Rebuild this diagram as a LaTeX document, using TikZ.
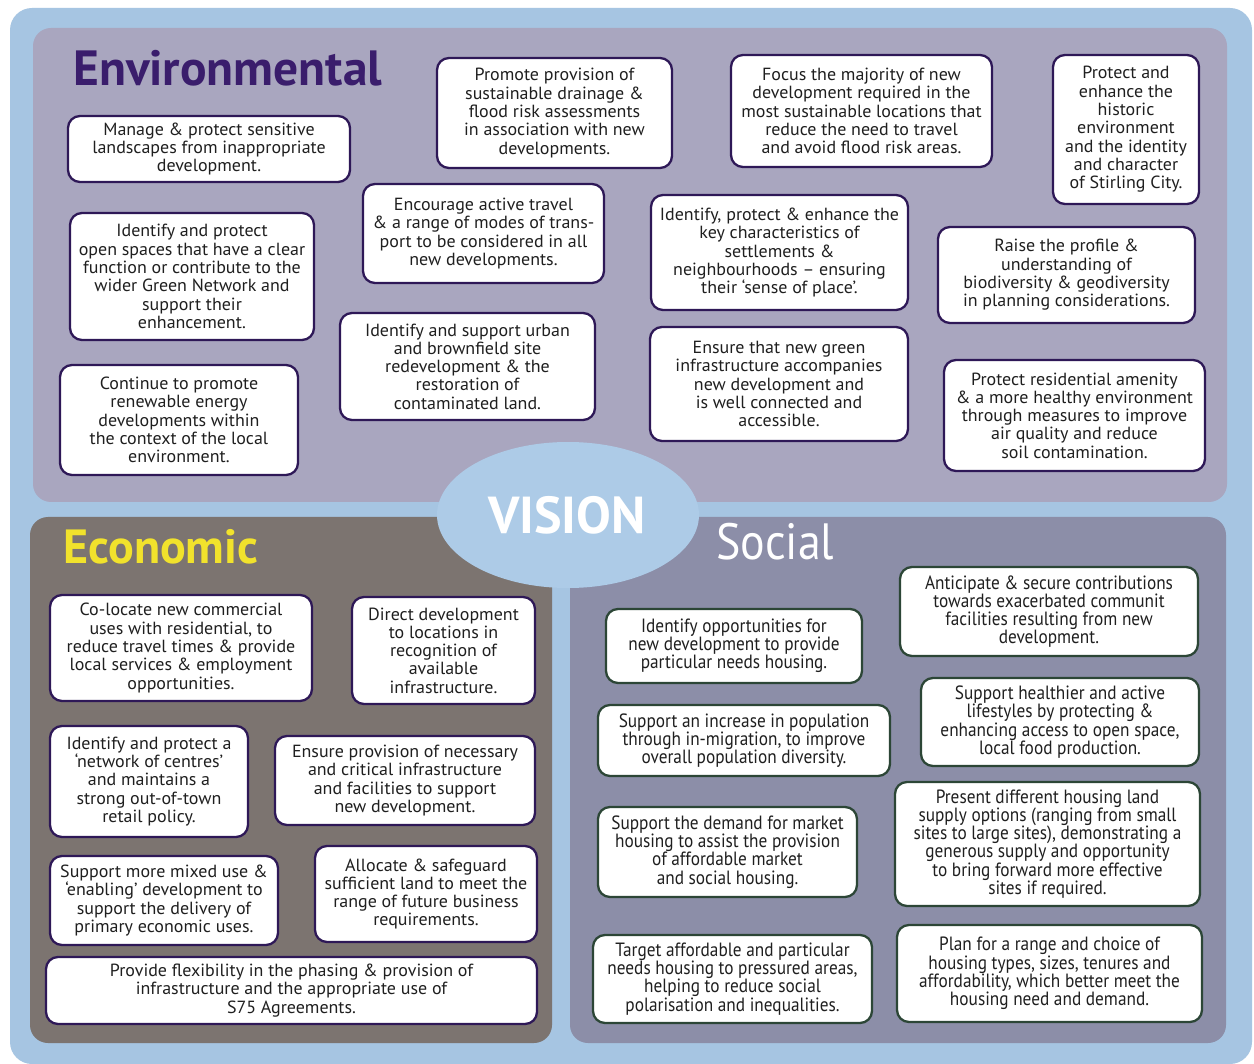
\documentclass[tikz,border=0pt]{standalone}
\usepackage{fontspec}
\setmainfont{PT Sans}
\newfontfamily\socialface[FakeStretch=0.9, Ligatures=TeX]{PT Sans}
\newfontfamily\boxface[FakeStretch=1.02, Ligatures=TeX]{PT Sans}
\usetikzlibrary{shapes.geometric}

\definecolor{skyblue}{HTML}{A6C5E2}
\definecolor{ovalblue}{HTML}{ADCBE7}
\definecolor{envpanel}{HTML}{A9A6BF}
\definecolor{ecopanel}{HTML}{7C7470}
\definecolor{socpanel}{HTML}{8C8EA8}
\definecolor{envline}{HTML}{2E1857}
\definecolor{socline}{HTML}{2C4636}
\definecolor{boxtext}{HTML}{1F1F1F}
\definecolor{envtitle}{HTML}{3A1D6C}
\definecolor{ecotitle}{HTML}{F1E22C}

\tikzset{
  ebox/.style={draw=envline, line width=2.3pt, rounded corners=12pt, fill=white,
    align=center, inner sep=1pt, text=boxtext,
    font=\boxface\fontsize{17.6}{18.3}\selectfont},
  sbox/.style={ebox, draw=socline,
    font=\socialface\fontsize{19.2}{18.2}\selectfont},
  panel/.style={rounded corners=18pt},
}

\begin{document}
\begin{tikzpicture}[x=1pt,y=-1pt]
\useasboundingbox (0,0) rectangle (1254,1064);
\fill[white] (0,0) rectangle (1254,1064);

% backdrop and the three theme panels
\fill[skyblue, rounded corners=22pt] (10,8) rectangle (1252,1064);
\fill[envpanel, panel] (33,28) rectangle (1227,502);
\fill[ecopanel, panel] (30,517) rectangle (552,1043);
\fill[socpanel, panel] (570,517) rectangle (1226,1043);
\node[ellipse, fill=ovalblue, minimum width=262pt, minimum height=146pt] (vision) at (568,515) {};
\node[text=white, font=\bfseries\fontsize{52}{52}\selectfont, anchor=base] (visiontxt) at (567,533) {VISION};

% titles
\node[text=envtitle, font=\bfseries\fontsize{49.5}{50}\selectfont, anchor=base west, inner sep=0pt] (envt) at (73,86) {Environmental};
\node[text=ecotitle, font=\bfseries\fontsize{48}{48}\selectfont, anchor=base west, inner sep=0pt] (ecot) at (63,563) {Economic};
\node[text=white, font=\socialface\fontsize{51}{51}\selectfont, anchor=base west, inner sep=0pt] (soct) at (716,560) {Social};

% Environmental
\node[ebox, minimum width=282pt, minimum height=66pt] (e1) at (209,149)
  {Manage \& protect sensitive\\landscapes from inappropriate\\development.};
\node[ebox, minimum width=244pt, minimum height=127pt] (e2) at (192,276.5)
  {Identify and protect\\open spaces that have a clear\\function or contribute to the\\wider Green Network and\\support their\\enhancement.};
\node[ebox, minimum width=238pt, minimum height=110pt] (e3) at (179,420)
  {Continue to promote\\renewable energy\\developments within\\the context of the local\\environment.};
\node[ebox, minimum width=235pt, minimum height=110pt] (e4) at (554.5,113)
  {Promote provision of\\sustainable drainage \&\\flood risk assessments\\in association with new\\developments.};
\node[ebox, minimum width=241pt, minimum height=99pt] (e5) at (483.5,233.5)
  {Encourage active travel\\\& a range of modes of trans-\\port to be considered in all\\new developments.};
\node[ebox, minimum width=255pt, minimum height=107pt] (e6) at (467.5,366.5)
  {Identify and support urban\\and brownfield site\\redevelopment \& the\\restoration of\\contaminated land.};
\node[ebox, minimum width=261pt, minimum height=112pt] (e7) at (861.5,111)
  {Focus the majority of new\\development required in the\\most sustainable locations that\\reduce the need to travel\\and avoid flood risk areas.};
\node[ebox, minimum width=257pt, minimum height=115pt] (e8) at (779.5,252.5)
  {Identify, protect \& enhance the\\key characteristics of\\settlements \&\\neighbourhoods – ensuring\\their ‘sense of place’.};
\node[ebox, minimum width=258pt, minimum height=114pt] (e9) at (779,384)
  {Ensure that new green\\infrastructure accompanies\\new development and\\is well connected and\\accessible.};
\node[ebox, minimum width=146pt, minimum height=149pt] (e10) at (1126,129.5)
  {Protect and\\enhance the\\historic\\environment\\and the identity\\and character\\of Stirling City.};
\node[ebox, minimum width=257pt, minimum height=96pt] (e11) at (1066.5,275)
  {Raise the profile \&\\understanding of\\biodiversity \& geodiversity\\in planning considerations.};
\node[ebox, minimum width=261pt, minimum height=111pt] (e12) at (1074.5,415.5)
  {Protect residential amenity\\\& a more healthy environment\\through measures to improve\\air quality and reduce\\soil contamination.};

% Economic
\node[ebox, minimum width=262pt, minimum height=106pt] (c1) at (181,648)
  {Co-locate new commercial\\uses with residential, to\\reduce travel times \& provide\\local services \& employment\\opportunities.};
\node[ebox, minimum width=183pt, minimum height=107pt] (c2) at (443.5,650.5)
  {Direct development\\to locations in\\recognition of\\available\\infrastructure.};
\node[ebox, minimum width=198pt, minimum height=111pt] (c3) at (149,781.5)
  {Identify and protect a\\‘network of centres’\\and maintains a\\strong out-of-town\\retail policy.};
\node[ebox, minimum width=260pt, minimum height=89pt] (c4) at (405,780.5)
  {Ensure provision of necessary\\and critical infrastructure\\and facilities to support\\new development.};
\node[ebox, minimum width=228pt, minimum height=89pt] (c5) at (164,900.5)
  {Support more mixed use \&\\‘enabling’ development to\\support the delivery of\\primary economic uses.};
\node[ebox, minimum width=222pt, minimum height=96pt] (c6) at (426,894)
  {Allocate \& safeguard\\sufficient land to meet the\\range of future business\\requirements.};
\node[ebox, minimum width=491pt, minimum height=67pt] (c7) at (291.5,990.5)
  {Provide flexibility in the phasing \& provision of\\infrastructure and the appropriate use of\\S75 Agreements.};

% Social
\node[sbox, minimum width=256pt, minimum height=74pt] (s1) at (734,646)
  {Identify opportunities for\\new development to provide\\particular needs housing.};
\node[sbox, minimum width=298pt, minimum height=89pt] (s2) at (1049,611.5)
  {Anticipate \& secure contributions\\towards exacerbated communit\\facilities resulting from new\\development.};
\node[sbox, minimum width=292pt, minimum height=71pt] (s3) at (744,740.5)
  {Support an increase in population\\through in-migration, to improve\\overall population diversity.};
\node[sbox, minimum width=278pt, minimum height=88pt] (s4) at (1060,722)
  {Support healthier and active\\lifestyles by protecting \&\\enhancing access to open space,\\local food production.};
\node[sbox, minimum width=259pt, minimum height=90pt] (s5) at (727.5,852)
  {Support the demand for market\\housing to assist the provision\\of affordable market\\and social housing.};
\node[sbox, minimum width=305pt, minimum height=124pt] (s6) at (1047.5,844)
  {Present different housing land\\supply options (ranging from small\\sites to large sites), demonstrating a\\generous supply and opportunity\\to bring forward more effective\\sites if required.};
\node[sbox, minimum width=279pt, minimum height=88pt] (s7) at (732.5,979)
  {Target affordable and particular\\needs housing to pressured areas,\\helping to reduce social\\polarisation and inequalities.};
\node[sbox, minimum width=305pt, minimum height=97pt] (s8) at (1049.5,973.5)
  {Plan for a range and choice of\\housing types, sizes, tenures and\\affordability, which better meet the\\housing need and demand.};
\end{tikzpicture}
\end{document}
